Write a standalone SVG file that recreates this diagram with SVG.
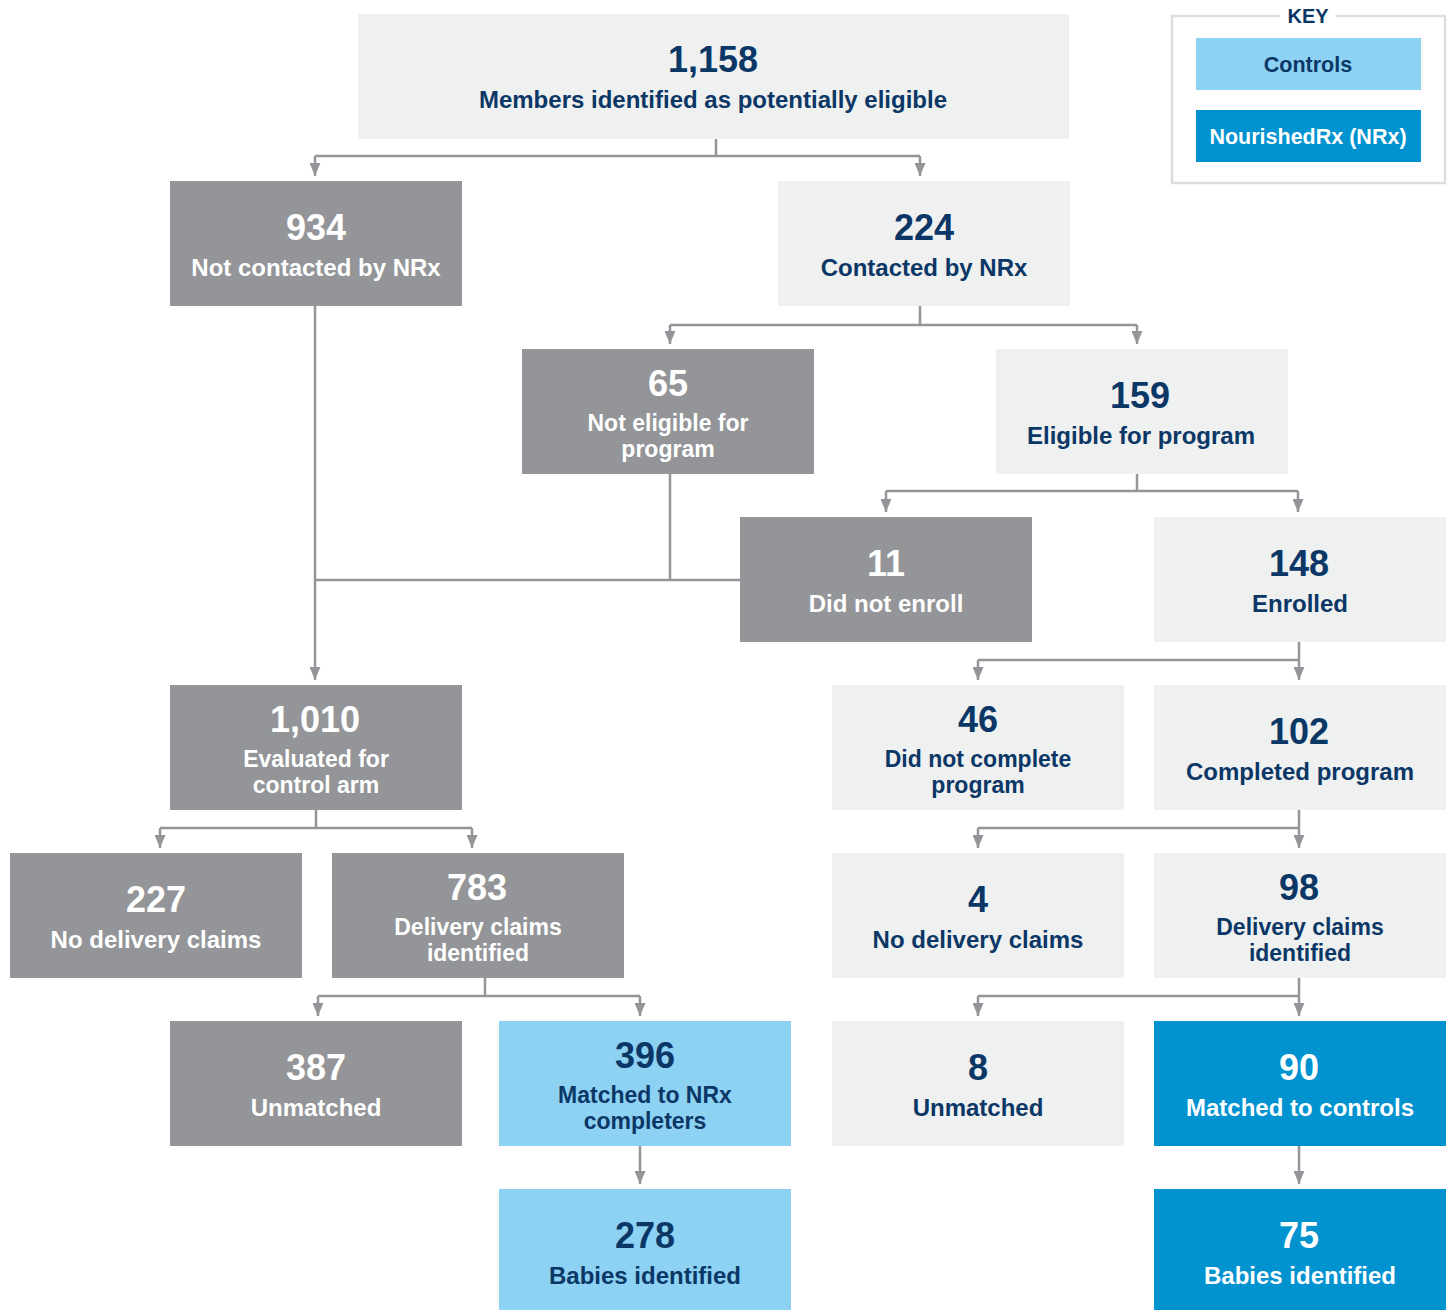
<svg xmlns="http://www.w3.org/2000/svg" width="1448" height="1310" viewBox="0 0 1448 1310">
<style>
.g{fill:#939598}
.l{fill:#eff0f0}
.lb{fill:#8dd1f3}
.b{fill:#0093d0}
text{font-family:"Liberation Sans",Arial,sans-serif;font-weight:bold;text-anchor:middle}
.n{font-size:36px}
.t{font-size:24px}
.t2{font-size:23px}
.w{fill:#ffffff}
.d{fill:#0b3766}
.c{fill:none;stroke:#939598;stroke-width:2.5}
</style>
<defs>
<marker id="ah" markerWidth="13" markerHeight="11" refX="13" refY="5.5" orient="auto" markerUnits="userSpaceOnUse" viewBox="0 0 13 11">
<path d="M0,0 L13,5.5 L0,11 Z" fill="#939598"/>
</marker>
</defs>
<rect width="1448" height="1310" fill="#ffffff"/>

<g id="key">
<path d="M1280,16 H1172 V183 H1445 V16 H1336" fill="none" stroke="#dcdddd" stroke-width="2.5"/>
<text x="1308" y="23" class="d" style="font-size:20px">KEY</text>
<rect x="1196" y="38" width="225" height="52" class="lb"/>
<text x="1308" y="72" class="d" style="font-size:21.5px">Controls</text>
<rect x="1196" y="110" width="225" height="52" class="b"/>
<text x="1308" y="144" class="w" style="font-size:21.5px">NourishedRx (NRx)</text>
</g>

<g id="connectors">
<path class="c" d="M716,139 V156 M315,156 H920"/>
<path class="c" marker-end="url(#ah)" d="M315,156 V176"/>
<path class="c" marker-end="url(#ah)" d="M920,156 V176"/>
<path class="c" d="M920,306 V325 M670,325 H1137"/>
<path class="c" marker-end="url(#ah)" d="M670,325 V344"/>
<path class="c" marker-end="url(#ah)" d="M1137,325 V344"/>
<path class="c" d="M1137,474 V491 M886,491 H1298"/>
<path class="c" marker-end="url(#ah)" d="M886,491 V512"/>
<path class="c" marker-end="url(#ah)" d="M1298,491 V512"/>
<path class="c" d="M670,474 V580 M315,580 H740"/>
<path class="c" marker-end="url(#ah)" d="M315,306 V680"/>
<path class="c" d="M978,660 H1299"/>
<path class="c" marker-end="url(#ah)" d="M1299,642 V680"/>
<path class="c" marker-end="url(#ah)" d="M978,660 V680"/>
<path class="c" d="M316,810 V828 M160,828 H472"/>
<path class="c" marker-end="url(#ah)" d="M160,828 V848"/>
<path class="c" marker-end="url(#ah)" d="M472,828 V848"/>
<path class="c" d="M978,828 H1299"/>
<path class="c" marker-end="url(#ah)" d="M1299,810 V848"/>
<path class="c" marker-end="url(#ah)" d="M978,828 V848"/>
<path class="c" d="M485,978 V996 M318,996 H640"/>
<path class="c" marker-end="url(#ah)" d="M318,996 V1016"/>
<path class="c" marker-end="url(#ah)" d="M640,996 V1016"/>
<path class="c" d="M978,996 H1299"/>
<path class="c" marker-end="url(#ah)" d="M1299,978 V1016"/>
<path class="c" marker-end="url(#ah)" d="M978,996 V1016"/>
<path class="c" marker-end="url(#ah)" d="M640,1146 V1184"/>
<path class="c" marker-end="url(#ah)" d="M1299,1146 V1184"/>
</g>

<g id="n1158">
<rect x="358" y="14" width="711" height="125" class="l"/>
<text x="713" y="72" class="n d">1,158</text>
<text x="713" y="108" class="t d">Members identified as potentially eligible</text>
</g>
<g id="n934">
<rect x="170" y="181" width="292" height="125" class="g"/>
<text x="316" y="240" class="n w">934</text>
<text x="316" y="276" class="t w">Not contacted by NRx</text>
</g>
<g id="n224">
<rect x="778" y="181" width="292" height="125" class="l"/>
<text x="924" y="240" class="n d">224</text>
<text x="924" y="276" class="t d">Contacted by NRx</text>
</g>
<g id="n65">
<rect x="522" y="349" width="292" height="125" class="g"/>
<text x="668" y="396" class="n w">65</text>
<text x="668" y="431" class="t2 w">Not eligible for</text>
<text x="668" y="457" class="t2 w">program</text>
</g>
<g id="n159">
<rect x="996" y="349" width="292" height="125" class="l"/>
<text x="1140" y="408" class="n d">159</text>
<text x="1141" y="444" class="t d">Eligible for program</text>
</g>
<g id="n11">
<rect x="740" y="517" width="292" height="125" class="g"/>
<text x="886" y="576" class="n w">11</text>
<text x="886" y="612" class="t w">Did not enroll</text>
</g>
<g id="n148">
<rect x="1154" y="517" width="292" height="125" class="l"/>
<text x="1299" y="576" class="n d">148</text>
<text x="1300" y="612" class="t d">Enrolled</text>
</g>
<g id="n1010">
<rect x="170" y="685" width="292" height="125" class="g"/>
<text x="315" y="732" class="n w">1,010</text>
<text x="316" y="767" class="t2 w">Evaluated for</text>
<text x="316" y="793" class="t2 w">control arm</text>
</g>
<g id="n46">
<rect x="832" y="685" width="292" height="125" class="l"/>
<text x="978" y="732" class="n d">46</text>
<text x="978" y="767" class="t2 d">Did not complete</text>
<text x="978" y="793" class="t2 d">program</text>
</g>
<g id="n102">
<rect x="1154" y="685" width="292" height="125" class="l"/>
<text x="1299" y="744" class="n d">102</text>
<text x="1300" y="780" class="t d">Completed program</text>
</g>
<g id="n227">
<rect x="10" y="853" width="292" height="125" class="g"/>
<text x="156" y="912" class="n w">227</text>
<text x="156" y="948" class="t w">No delivery claims</text>
</g>
<g id="n783">
<rect x="332" y="853" width="292" height="125" class="g"/>
<text x="477" y="900" class="n w">783</text>
<text x="478" y="935" class="t2 w">Delivery claims</text>
<text x="478" y="961" class="t2 w">identified</text>
</g>
<g id="n4">
<rect x="832" y="853" width="292" height="125" class="l"/>
<text x="978" y="912" class="n d">4</text>
<text x="978" y="948" class="t d">No delivery claims</text>
</g>
<g id="n98">
<rect x="1154" y="853" width="292" height="125" class="l"/>
<text x="1299" y="900" class="n d">98</text>
<text x="1300" y="935" class="t2 d">Delivery claims</text>
<text x="1300" y="961" class="t2 d">identified</text>
</g>
<g id="n387">
<rect x="170" y="1021" width="292" height="125" class="g"/>
<text x="316" y="1080" class="n w">387</text>
<text x="316" y="1116" class="t w">Unmatched</text>
</g>
<g id="n396">
<rect x="499" y="1021" width="292" height="125" class="lb"/>
<text x="645" y="1068" class="n d">396</text>
<text x="645" y="1103" class="t2 d">Matched to NRx</text>
<text x="645" y="1129" class="t2 d">completers</text>
</g>
<g id="n8">
<rect x="832" y="1021" width="292" height="125" class="l"/>
<text x="978" y="1080" class="n d">8</text>
<text x="978" y="1116" class="t d">Unmatched</text>
</g>
<g id="n90">
<rect x="1154" y="1021" width="292" height="125" class="b"/>
<text x="1299" y="1080" class="n w">90</text>
<text x="1300" y="1116" class="t w">Matched to controls</text>
</g>
<g id="n278">
<rect x="499" y="1189" width="292" height="121" class="lb"/>
<text x="645" y="1248" class="n d">278</text>
<text x="645" y="1284" class="t d">Babies identified</text>
</g>
<g id="n75">
<rect x="1154" y="1189" width="292" height="121" class="b"/>
<text x="1299" y="1248" class="n w">75</text>
<text x="1300" y="1284" class="t w">Babies identified</text>
</g>
</svg>
